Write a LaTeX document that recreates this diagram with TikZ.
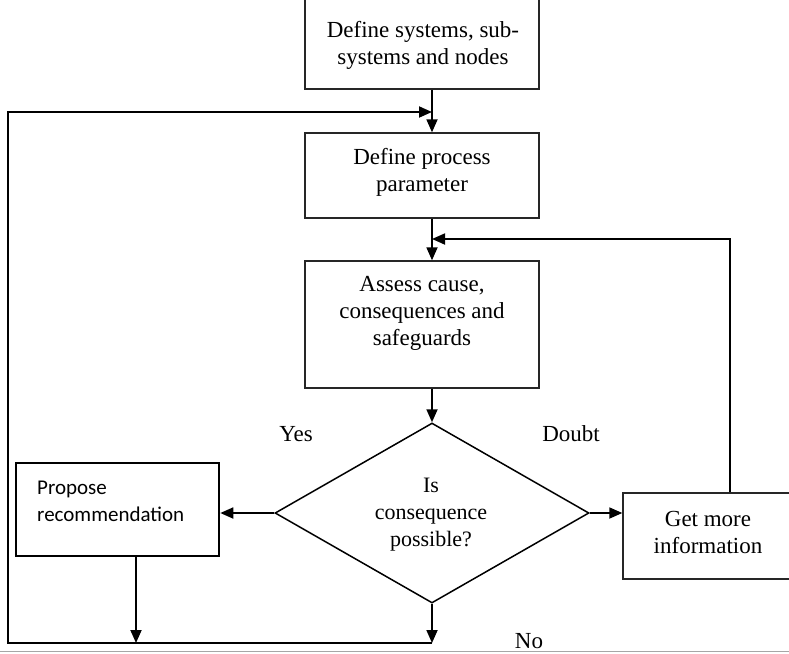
\documentclass[tikz,border=0pt]{standalone}
\usepackage{fontspec}
\setmainfont{Liberation Serif}
\newfontfamily\calib{Carlito}
\usetikzlibrary{shapes.geometric,arrows.meta}

\begin{document}
\begin{tikzpicture}[x=1pt,y=-1pt,
  box/.style={draw=black!85, line width=1.4pt, rectangle, inner sep=0pt},
  txt/.style={align=center, font=\fontsize{23}{27}\selectfont, inner sep=0pt},
  flow/.style={line width=1.8pt, line join=miter, -{Triangle[length=13pt,width=11pt]}},
]
\useasboundingbox (0,0) rectangle (789,653);

% process boxes
\node[box, minimum width=234pt, minimum height=95pt] (sys) at (422,41.5) {};
\node[txt] at (423,45) {Define systems, sub-\\systems and nodes};

\node[box, minimum width=234pt, minimum height=85pt] (par) at (422,175.5) {};
\node[txt] at (422,172) {Define process\\parameter};

\node[box, minimum width=234pt, minimum height=127pt] (ass) at (422,324.5) {};
\node[txt] at (422,313) {Assess cause,\\consequences and\\safeguards};

% decision
\node[diamond, draw=black, line width=1.5pt, minimum width=314pt, minimum height=180pt, inner sep=0pt] (dec) at (432,513) {};
\node[txt, font=\fontsize{22}{27}\selectfont] at (431,515) {Is\\consequence\\possible?};

% outcome boxes
\node[draw=black, line width=2.6pt, rectangle, inner sep=0pt, minimum width=203pt, minimum height=93pt] (prop) at (117.5,509.5) {};
\node[anchor=west, align=left, inner sep=0pt, font=\calib\fontsize{21}{27}\selectfont] at (37,501) {Propose\\recommendation};

\node[box, minimum width=169pt, minimum height=86pt] (info) at (707.5,536) {};
\node[txt] at (708,532) {Get more\\information};

% branch labels
\node[txt] (yes) at (296,434) {Yes};
\node[txt] (doubt) at (571,434) {Doubt};
\node[txt] (no) at (529,641) {No};

% routing points
\coordinate (spine) at (432,0);
\coordinate (base) at (432,643);
\coordinate (pdrop) at (136,643);
\coordinate (lc) at (8,643);
\coordinate (lt) at (8,112);
\coordinate (rt) at (730,239);

% main flow
\draw[flow] (sys.south -| spine) -- (par.north -| spine);
\draw[flow] (par.south -| spine) -- (ass.north -| spine);
\draw[flow] (ass.south -| spine) -- (dec.north);
\draw[flow] (dec.west) -- (dec.west -| prop.east);
\draw[flow] (dec.east) -- (dec.east -| info.west);
\draw[flow] (dec.south) -- (base);
\draw[flow] (prop.south -| pdrop) -- (pdrop);

% feedback loops
\draw[flow] (base) -- (lc) -- (lt) -- (lt -| spine);
\draw[flow] (info.north -| rt) -- (rt) -- (rt -| spine);

% bottom rule
\draw[gray!70, line width=1.5pt] (0,651.5) -- (789,651.5);
\end{tikzpicture}
\end{document}
